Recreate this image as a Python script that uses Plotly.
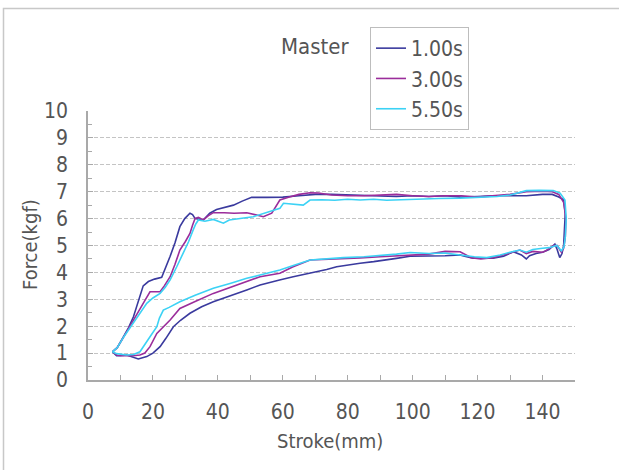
import plotly.graph_objects as go

# ---- data ----
series_names = ["1.00s", "3.00s", "5.50s"]
series_colors = ["#3a3a9e", "#9b2d9b", "#3cd2f5"]

x_100 = [7.5, 9, 10.9, 12.5, 14, 15.5, 17, 18.6, 20.5, 22.7, 24, 25.3, 26.8, 28.3, 29.8, 31.4, 32.2, 33, 35.5, 37.5,
         39.6, 42, 44.8, 47.5, 50.4, 55, 60, 65, 70, 75, 80, 85, 90, 95, 100, 105, 110, 115, 120, 125, 130, 135, 140,
         143, 145, 146.5, 147, 146.8, 146.5, 146, 145.3, 144.5, 143.8, 142, 140, 138, 136, 135, 133.5, 131, 128, 124.8,
         121, 118.6, 116, 114.6, 110, 105, 99.2, 95, 92, 88, 83.8, 80, 76.6, 73.5, 68, 63.2, 59, 53, 48.9, 44, 38.6,
         35, 31.4, 28.5, 26.3, 24, 22.2, 20, 18.1, 15.5, 13.5, 11.9, 10, 8.8, 7.5]
y_100 = [1.05, 1.2, 1.6, 1.95, 2.35, 2.9, 3.5, 3.66, 3.75, 3.82, 4.2, 4.6, 5.1, 5.7, 6.0, 6.2, 6.15, 6.0, 5.95, 6.2,
         6.34, 6.42, 6.5, 6.65, 6.79, 6.79, 6.8, 6.85, 6.9, 6.9, 6.88, 6.85, 6.85, 6.82, 6.85, 6.82, 6.85, 6.8, 6.82,
         6.85, 6.85, 6.85, 6.9, 6.9, 6.8, 6.7, 6.2, 5.5, 5.0, 4.7, 4.55, 4.85, 5.05, 4.85, 4.75, 4.7, 4.62, 4.5, 4.65,
         4.77, 4.6, 4.53, 4.52, 4.53, 4.6, 4.65, 4.62, 4.62, 4.6, 4.52, 4.46, 4.4, 4.34, 4.28, 4.21, 4.11, 3.98, 3.84,
         3.72, 3.53, 3.35, 3.15, 2.91, 2.72, 2.48, 2.22, 1.98, 1.55, 1.24, 1.0, 0.87, 0.78, 0.85, 0.93, 0.9, 0.9, 1.05]

x_300 = [7.5, 9, 11, 13, 14.5, 16, 17.5, 19.1, 22.2, 23.5, 25.3, 26.8, 28.3, 30, 31.4, 32.2, 33, 34, 35.5, 37, 38.6,
         42, 45, 48.9, 51, 54, 56.6, 58, 59.1, 62, 65, 68.4, 71, 75, 80, 85, 90, 95, 100, 105, 110, 115, 120, 125, 130,
         135, 140, 143, 145, 146.5, 147.2, 147, 146.5, 145.8, 144.5, 143.3, 141, 140, 137, 135, 133, 130, 127, 124.8,
         121, 118, 114.6, 110, 105, 99.2, 95, 90, 83.8, 78, 73, 68.4, 63, 59.1, 53, 48.9, 44, 38.6, 33, 28.3, 25.3, 23,
         21.2, 19.1, 17.5, 16, 13.9, 11, 9, 7.5]
y_300 = [1.05, 1.2, 1.6, 2.0, 2.3, 2.6, 2.95, 3.28, 3.28, 3.5, 3.84, 4.3, 4.83, 5.15, 5.45, 5.75, 6.01, 6.05, 5.95,
         6.1, 6.22, 6.22, 6.2, 6.22, 6.15, 6.07, 6.2, 6.45, 6.69, 6.8, 6.9, 6.96, 6.95, 6.88, 6.85, 6.85, 6.88, 6.9,
         6.85, 6.82, 6.85, 6.85, 6.8, 6.85, 6.9, 7.0, 7.02, 7.0, 6.9, 6.6, 6.0, 5.3, 4.9, 4.75, 5.0, 5.0, 4.8, 4.75,
         4.78, 4.7, 4.83, 4.72, 4.62, 4.55, 4.5, 4.55, 4.77, 4.78, 4.68, 4.65, 4.62, 4.58, 4.54, 4.5, 4.48, 4.46, 4.2,
         3.97, 3.84, 3.66, 3.45, 3.22, 2.92, 2.66, 2.23, 1.95, 1.73, 1.24, 1.0, 0.93, 0.9, 0.9, 0.92, 1.05]

x_550 = [7.5, 9, 11, 13, 15, 16.5, 18.1, 20, 22.2, 23.8, 25.3, 27.3, 29.4, 31, 32.4, 33.2, 34, 36, 38.6, 40, 41.7,
         43.5, 45.8, 48, 50.9, 53, 56, 57, 59.1, 60.2, 63, 66.3, 68.4, 72, 76, 80, 83.8, 88, 92, 96, 99.2, 104, 108,
         114.6, 118, 122, 126, 130, 132, 135, 139, 143.3, 145.4, 146.9, 147.3, 147, 146.6, 145.8, 144.4, 142, 140, 137,
         135, 133, 130, 127, 122.8, 119, 114.6, 110, 105, 99.2, 95, 90, 85, 78.7, 74, 68.4, 63, 59.1, 53, 48.9, 44,
         38.6, 33, 28.3, 25, 23.2, 22, 21.2, 19.1, 17.5, 16, 14, 11.9, 8.8, 7.5]
y_550 = [1.05, 1.2, 1.6, 1.95, 2.3, 2.6, 2.85, 3.05, 3.22, 3.45, 3.72, 4.2, 4.71, 5.15, 5.58, 5.8, 5.95, 5.9, 5.97,
         5.9, 5.83, 5.95, 6.0, 6.02, 6.07, 6.15, 6.26, 6.32, 6.38, 6.57, 6.55, 6.5, 6.69, 6.7, 6.68, 6.72, 6.69, 6.72,
         6.68, 6.7, 6.69, 6.72, 6.75, 6.76, 6.78, 6.8, 6.82, 6.88, 6.95, 7.04, 7.05, 7.04, 6.95, 6.69, 6.0, 5.3, 4.95,
         4.8, 5.0, 4.92, 4.9, 4.85, 4.75, 4.83, 4.75, 4.65, 4.55, 4.58, 4.65, 4.72, 4.7, 4.74, 4.68, 4.62, 4.58, 4.55,
         4.52, 4.46, 4.25, 4.09, 3.9, 3.78, 3.6, 3.41, 3.15, 2.91, 2.7, 2.6, 2.3, 1.98, 1.61, 1.3, 1.05, 0.95, 0.93,
         0.98, 1.05]

x_ticks = [0, 20, 40, 60, 80, 100, 120, 140]
y_ticks = [0, 1, 2, 3, 4, 5, 6, 7, 8, 9, 10]

FONT = "DejaVu Sans Condensed, Liberation Sans, sans-serif"
TXT = "#555555"
AXC = "#a9a9a9"

fig = go.Figure()
for name, color, xs, ys in zip(series_names, series_colors,
                               [x_100, x_300, x_550], [y_100, y_300, y_550]):
    fig.add_trace(go.Scatter(x=xs, y=ys, mode="lines", name=name,
                             line=dict(color=color, width=1.6)))

L, R, T, B = 88, 44, 111, 90
W, H = 619, 470
pw, ph = W - L - R, H - T - B

def px2x(px):
    return (px - L) / pw

def py2y(py):
    return (H - B - py) / ph

fig.update_layout(
    width=W, height=H,
    margin=dict(l=L, r=R, t=T, b=B),
    paper_bgcolor="white", plot_bgcolor="white",
    font=dict(family=FONT, color=TXT, size=20),
    showlegend=True,
    legend=dict(x=px2x(370), y=py2y(27), xanchor="left", yanchor="top",
                bordercolor="#bdbdbd", borderwidth=1, bgcolor="white",
                font=dict(size=21, family=FONT, color=TXT), tracegroupgap=0,
                itemwidth=30),
    xaxis=dict(range=[0, 150], tickvals=x_ticks, ticks="inside", ticklen=5, tickcolor=AXC,
               showline=True, linecolor=AXC, linewidth=1.5, showgrid=False, zeroline=False,
               tickfont=dict(size=21), ticklabelstandoff=12,
               minor=dict(dtick=10, tick0=0, ticks="inside", ticklen=5, tickcolor=AXC, showgrid=False)),
    yaxis=dict(range=[0, 10], tickvals=y_ticks, ticks="inside", ticklen=5, tickcolor=AXC,
               showline=True, linecolor=AXC, linewidth=1.5, showgrid=True, gridcolor="#c4c4c4",
               griddash="4px,2px", gridwidth=1, zeroline=False,
               tickfont=dict(size=21), ticklabelstandoff=14,
               minor=dict(dtick=0.5, tick0=0, ticks="inside", ticklen=4, tickcolor=AXC, showgrid=False)),
    annotations=[
        dict(text="Master", xref="paper", yref="paper", x=px2x(315), y=py2y(46),
             xanchor="center", yanchor="middle",
             showarrow=False, font=dict(size=22, family=FONT, color=TXT)),
        dict(text="Force(kgf)", xref="paper", yref="paper", x=px2x(30), y=py2y(245),
             xanchor="center", yanchor="middle",
             showarrow=False, textangle=-90, font=dict(size=20, family=FONT, color=TXT)),
        dict(text="Stroke(mm)", xref="paper", yref="paper", x=px2x(330), y=py2y(441),
             xanchor="center", yanchor="middle",
             showarrow=False, font=dict(size=20, family=FONT, color=TXT)),
    ],
    shapes=[
        dict(type="rect", xref="paper", yref="paper",
             x0=px2x(3.5), x1=px2x(640), y0=py2y(490), y1=py2y(8.5),
             line=dict(color="#c8c8c8", width=1.5), fillcolor="rgba(0,0,0,0)", layer="below"),
    ],
)

fig.write_html("out.html")
